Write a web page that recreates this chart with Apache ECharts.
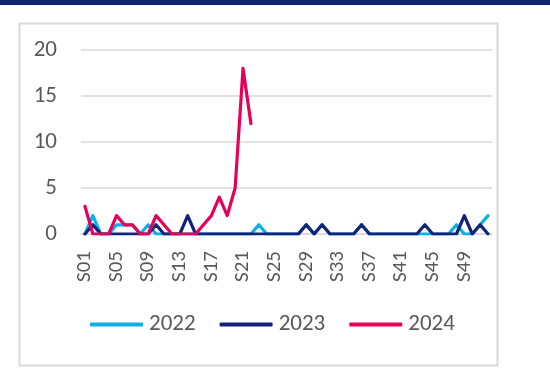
<!DOCTYPE html>
<html>
<head>
<meta charset="utf-8">
<script src="https://cdn.jsdelivr.net/npm/echarts@6/dist/echarts.min.js"></script>
<style>
  html, body { margin: 0; padding: 0; background: #ffffff; }
  #chart { width: 550px; height: 376px; }
</style>
</head>
<body>
<div id="chart"></div>
<script>
// Weekly case counts, weeks S01–S52
const weeks = [];
for (let w = 1; w <= 52; w++) weeks.push('S' + String(w).padStart(2, '0'));

const cases2022 = [0,2,0,0,1,1,1,0,1,0, 0,0,0,0,0,0,0,0,0,0, 0,0,1,0,0,0,0,0,1,0,
                   1,0,0,0,0,1,0,0,0,0, 0,0,0,0,0,0,0,1,0,0, 1,2];
const cases2023 = [0,1,0,0,0,0,0,0,0,1, 0,0,0,2,0,0,0,0,0,0, 0,0,0,0,0,0,0,0,1,0,
                   1,0,0,0,0,1,0,0,0,0, 0,0,0,1,0,0,0,0,2,0, 1,0];
const cases2024 = [3,0,0,0,2,1,1,0,0,2, 1,0,0,0,0,1,2,4,2,5, 18,12];

const yTicks = { min: 0, max: 20, interval: 5 };

const colors = { y2022: '#0ab1e8', y2023: '#13237a', y2024: '#e6005a' };
const textColor = '#595959';
const fontFamily = 'Carlito, Calibri, Lato, sans-serif';

const chart = echarts.init(document.getElementById('chart'), null, { renderer: 'canvas' });

function lineSeries(name, data, color) {
  return {
    name: name,
    type: 'line',
    data: data,
    symbol: 'none',
    smooth: false,
    connectNulls: false,
    lineStyle: { color: color, width: 3.2, join: 'round', cap: 'round' },
    itemStyle: { color: color },
    emphasis: { disabled: true }
  };
}

chart.setOption({
  animation: false,
  backgroundColor: '#ffffff',
  textStyle: { fontFamily: fontFamily },
  graphic: [
    { type: 'rect', left: 0, top: 0, shape: { width: 550, height: 5 }, style: { fill: '#10226f' }, silent: true },
    { type: 'rect', left: 17, top: 21, shape: { width: 478, height: 342 },
      style: { fill: 'none', stroke: '#d9d9d9', lineWidth: 2 }, silent: true }
  ],
  grid: { left: 81, right: 58, top: 50, bottom: 142, containLabel: false },
  legend: {
    top: 313,
    left: 90,
    padding: 0,
    itemWidth: 53,
    itemHeight: 4,
    itemGap: 24,
    icon: 'roundRect',
    textStyle: { color: textColor, fontSize: 23, fontFamily: fontFamily, padding: [0, 0, 0, 1] },
    data: ['2022', '2023', '2024']
  },
  xAxis: {
    type: 'category',
    data: weeks,
    boundaryGap: true,
    axisLine: { show: true, lineStyle: { color: '#d9d9d9', width: 1.5 } },
    axisTick: { show: false },
    axisLabel: {
      interval: 3,
      rotate: 90,
      color: textColor,
      fontSize: 21,
      fontFamily: fontFamily,
      margin: 17
    },
    splitLine: { show: false }
  },
  yAxis: {
    type: 'value',
    min: yTicks.min,
    max: yTicks.max,
    interval: yTicks.interval,
    axisLine: { show: false },
    axisTick: { show: false },
    axisLabel: { color: textColor, fontSize: 23, fontFamily: fontFamily, margin: 24 },
    splitLine: { show: true, lineStyle: { color: '#d9d9d9', width: 1.5 } }
  },
  series: [
    lineSeries('2022', cases2022, colors.y2022),
    lineSeries('2023', cases2023, colors.y2023),
    lineSeries('2024', cases2024, colors.y2024)
  ]
});
</script>
</body>
</html>
